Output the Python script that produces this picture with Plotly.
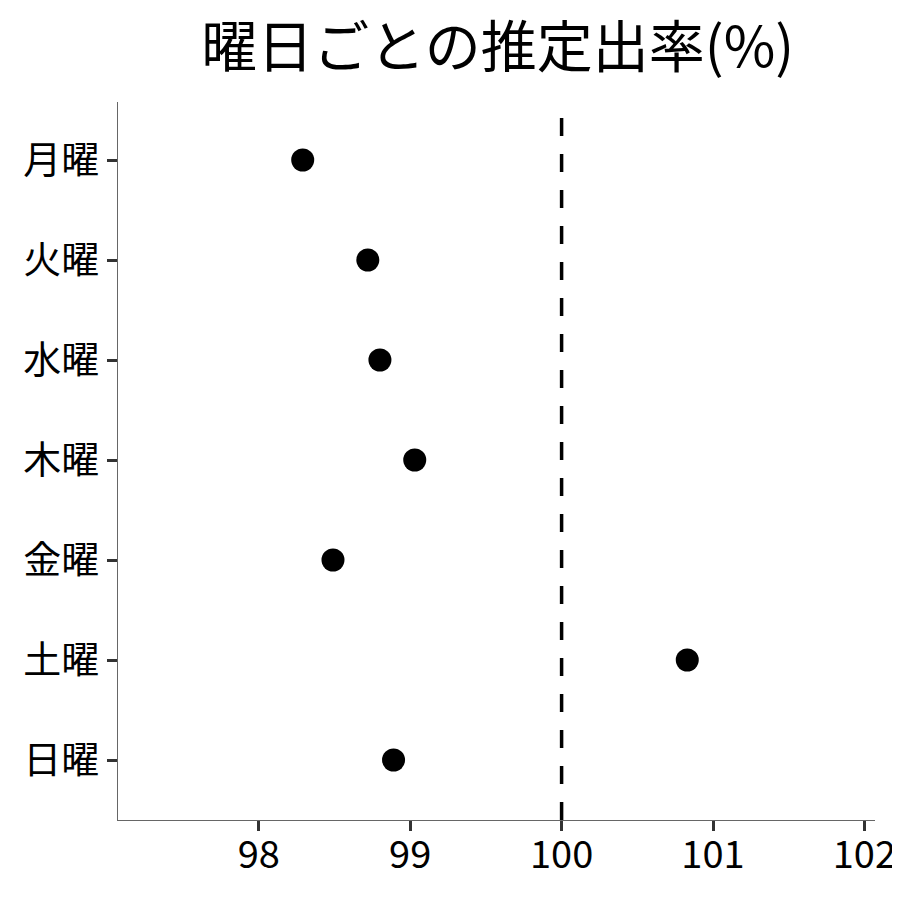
import plotly.graph_objects as go

days = ["月曜", "火曜", "水曜", "木曜", "金曜", "土曜", "日曜"]
rates = [98.29, 98.72, 98.80, 99.03, 98.49, 100.83, 98.89]
x_ticks = [98, 99, 100, 101, 102]
REF_VALUE = 100
title_text = "曜日ごとの推定出率(%)"

FONT = "Noto Sans CJK JP"

fig = go.Figure()
fig.add_trace(go.Scatter(
    x=rates, y=days, mode="markers",
    marker=dict(color="black", size=23, line=dict(width=0)),
    showlegend=False,
))
fig.add_vline(x=REF_VALUE, line=dict(color="black", width=3.5, dash="18px,18px"))

fig.update_layout(
    width=892, height=892,
    paper_bgcolor="white", plot_bgcolor="white",
    margin=dict(l=110, r=25, t=94, b=80),
    font=dict(family=FONT, color="black"),
    title=dict(text=title_text, x=0.549, xanchor="center", y=0.956, yanchor="middle",
               font=dict(family=FONT, size=56, color="black")),
)
fig.update_xaxes(
    range=[97.07, 102.07], tickvals=x_ticks, ticktext=[str(t) for t in x_ticks],
    automargin=False,
    showgrid=False, zeroline=False, showline=True, linecolor="#666666", linewidth=1.3,
    ticks="outside", ticklen=10, tickwidth=3, tickcolor="#333333",
    ticklabelstandoff=-9,
    tickfont=dict(family=FONT, size=38, color="black"),
)
fig.update_yaxes(
    type="category", categoryorder="array", categoryarray=days,
    range=[6.6, -0.58], automargin=False,
    showgrid=False, zeroline=False, showline=True, linecolor="#666666", linewidth=1.3,
    ticks="outside", ticklen=10, tickwidth=3, tickcolor="#333333",
    tickfont=dict(family=FONT, size=38, color="black"),
)

fig.write_html("out.html")
